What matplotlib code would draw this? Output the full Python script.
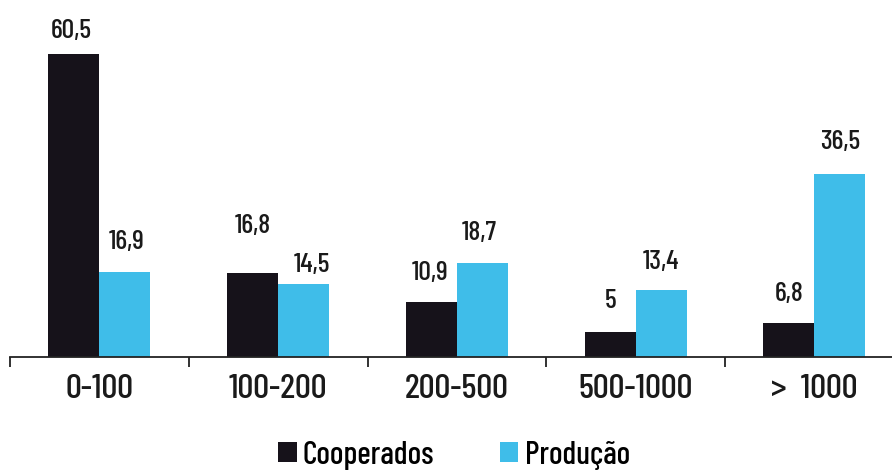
import matplotlib
matplotlib.use("Agg")
import matplotlib.pyplot as plt
from matplotlib.patches import Patch

# Data
categories = ["0-100", "100-200", "200-500", "500-1000", ">  1000"]
cooperados = [60.5, 16.8, 10.9, 5, 6.8]
producao = [16.9, 14.5, 18.7, 13.4, 36.5]
series_names = ["Cooperados", "Produção"]

# Styling
black = "#16121a"
blue = "#3fbde9"
text_color = "#1a1a1a"
plt.rcParams["font.family"] = ["Barlow Condensed", "DejaVu Sans"]
plt.rcParams["font.weight"] = 500

# label gap above bar top (points) and horizontal nudges (points)
gap_coop = [11.5, 29, 16.5, 17, 16]
gap_prod = [17, 9, 16.5, 15, 18]
dx_coop = [-2, 0, -1, 0, 0]
dx_prod = [1, 6, -2, 0, 0]

W, H = 892, 473
fig = plt.figure(figsize=(W / 100, H / 100), dpi=100)
ax = fig.add_axes([10 / W, 116 / H, 882 / W, 357 / H])

bw = 0.285
x = list(range(len(categories)))
ax.bar([i - bw / 2 for i in x], cooperados, width=bw, color=black, linewidth=0)
ax.bar([i + bw / 2 for i in x], producao, width=bw, color=blue, linewidth=0)

for i in x:
    ax.annotate(f"{cooperados[i]:g}".replace(".", ","), (i - bw / 2, cooperados[i]),
                xytext=(dx_coop[i], gap_coop[i]), textcoords="offset points",
                ha="center", va="baseline", fontsize=20, color=text_color)
    ax.annotate(f"{producao[i]:g}".replace(".", ","), (i + bw / 2, producao[i]),
                xytext=(dx_prod[i], gap_prod[i]), textcoords="offset points",
                ha="center", va="baseline", fontsize=20, color=text_color)

ax.set_xlim(-0.5, 4.434)
ax.set_ylim(0, 71.3)

for s in ["top", "right", "left"]:
    ax.spines[s].set_visible(False)
ax.spines["bottom"].set_linewidth(1.3)
ax.spines["bottom"].set_color("#222222")
ax.set_yticks([])

# category names under the groups, separator ticks between them
ax.set_xticks(x)
ax.set_xticklabels(categories, fontsize=25.5, color=text_color)
ax.tick_params(axis="x", which="major", length=0, pad=12.5)
ax.set_xticks([i + 0.5 for i in range(-1, 4)], minor=True)
ax.tick_params(axis="x", which="minor", length=7, width=1.3, color="#222222", direction="out")

handles = [Patch(facecolor=black, edgecolor="none"), Patch(facecolor=blue, edgecolor="none")]
fig.legend(handles, series_names, loc="center", bbox_to_anchor=(454 / W, 1 - 455 / H),
           ncol=2, frameon=False, fontsize=23, handlelength=0.58, handleheight=0.58,
           handletextpad=0.2, columnspacing=2.05)

fig.savefig("out.png", dpi=100)
